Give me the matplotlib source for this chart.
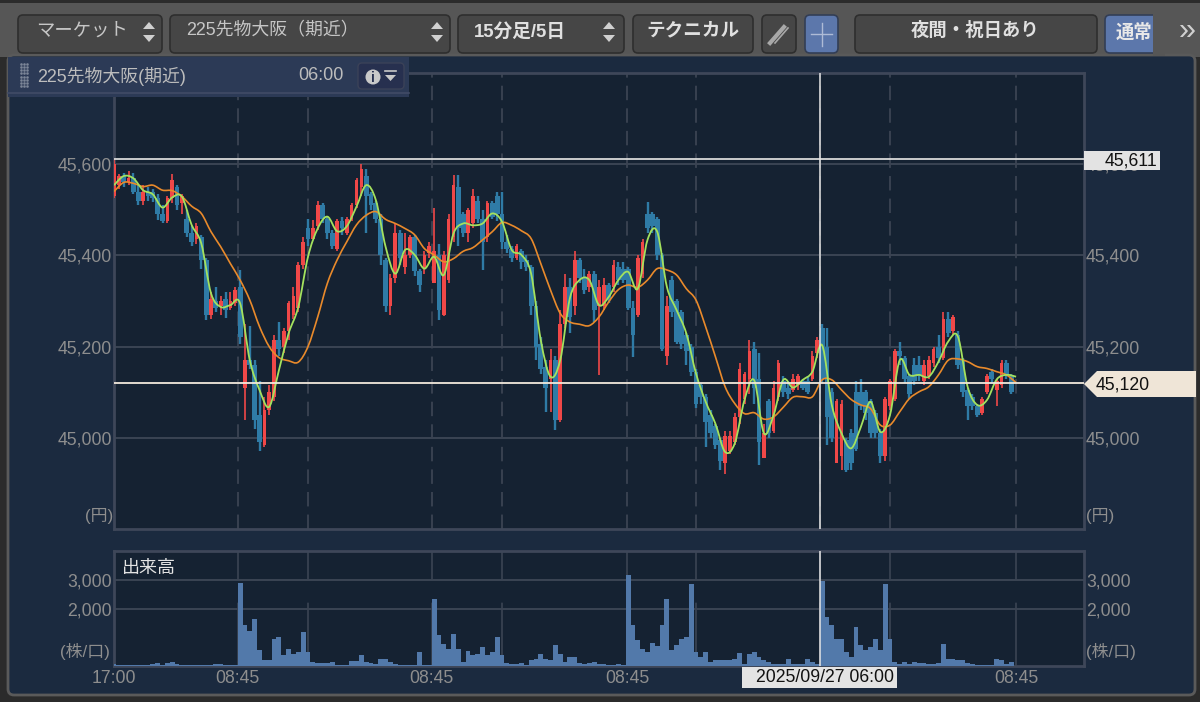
import numpy as np
import matplotlib
matplotlib.use("Agg")
import matplotlib.pyplot as plt
from matplotlib.patches import FancyBboxPatch, Rectangle, Polygon, Circle, PathPatch
from matplotlib.path import Path

plt.rcParams['font.family'] = ['Liberation Sans', 'Noto Sans CJK JP', 'DejaVu Sans']

# =========================
# DATA (one candle = 2 bar slots)
# =========================
opens = [
    45530,45555,45575,45560,45570,45540,45520,45540,45540,45525,
    45490,45475,45525,45550,45515,45480,45450,45435,45440,45390,
    45270,45300,45290,45305,45285,45295,45330,45110,45170,45160,
    45050,44985,45060,45090,45215,45200,45235,45270,45285,45380,
    45460,45435,45465,45510,45480,45450,45415,45475,45450,45480,
    45510,45550,45575,45535,45515,45480,45390,45290,45350,45450,
    45375,45400,45440,45365,45370,45405,45340,45400,45270,45345,
    45440,45550,45490,45450,45470,45520,45480,45440,45515,45530,
    45490,45430,45415,45395,45410,45390,45375,45290,45205,45155,
    45130,45170,45040,45250,45330,45290,45390,45350,45330,45360,
    45290,45290,45335,45330,45375,45370,45370,45285,45270,45360,
    45490,45490,45480,45400,45180,45345,45300,45275,45225,45200,
    45145,45115,45090,45050,45025,44995,44945,44970,44990,45045,
    45085,45130,45195,45130,44955,45080,45015,45090,45125,45110,
    45105,45115,45125,45125,45130,45185,45240,45200,45100,44945,
    44960,44995,45010,45100,45100,45100,45080,45055,45010,44960,
    45070,45085,45190,45175,45135,45160,45160,45125,45135,45165,
    45200,45175,45260,45235,45225,45170,45105,45090,45070,45055,
    45100,45145,45105,45115,45165,45135,
]
closes = [
    45600,45575,45560,45570,45540,45520,45540,45530,45525,45490,
    45475,45525,45565,45510,45530,45450,45430,45465,45390,45270,
    45305,45285,45300,45280,45300,45325,45220,45170,45160,45040,
    44990,45060,45100,45215,45195,45235,45295,45310,45380,45430,
    45435,45460,45510,45480,45450,45420,45475,45460,45480,45510,
    45565,45590,45530,45510,45480,45400,45290,45350,45450,45395,
    45400,45440,45365,45335,45400,45420,45410,45280,45400,45480,
    45555,45460,45450,45500,45530,45480,45430,45515,45485,45490,
    45430,45415,45395,45420,45385,45375,45290,45200,45150,45110,
    45170,45040,45250,45330,45265,45390,45350,45325,45360,45280,
    45330,45335,45305,45380,45345,45345,45285,45225,45395,45430,
    45460,45465,45400,45195,45290,45275,45210,45205,45190,45145,
    45075,45090,45035,45010,44985,44950,45005,45005,45045,45150,
    45140,45190,45110,44990,45010,45010,45110,45165,45100,45095,
    45130,45135,45110,45100,45180,45215,45130,45045,45000,45080,
    45075,44930,44945,44975,45070,45055,45010,45010,44960,45085,
    45125,45190,45180,45130,45095,45125,45135,45160,45170,45195,
    45175,45260,45230,45265,45160,45100,45070,45070,45050,45085,
    45135,45130,45125,45165,45140,45100,
]
highs = [
    45611,45578,45580,45585,45580,45555,45555,45550,45545,45535,
    45510,45530,45578,45555,45535,45500,45465,45470,45445,45395,
    45320,45330,45310,45320,45320,45330,45368,45250,45245,45170,
    45125,45090,45115,45225,45255,45240,45300,45330,45385,45440,
    45480,45478,45520,45515,45485,45455,45480,45485,45485,45515,
    45570,45600,45590,45540,45520,45490,45395,45360,45470,45455,
    45450,45445,45445,45370,45410,45430,45505,45425,45410,45490,
    45576,45576,45495,45505,45546,45530,45500,45520,45520,45538,
    45540,45445,45420,45425,45415,45400,45380,45300,45220,45170,
    45195,45180,45280,45360,45350,45409,45395,45370,45365,45365,
    45345,45350,45340,45390,45385,45385,45375,45300,45400,45435,
    45518,45495,45485,45405,45310,45355,45305,45280,45230,45205,
    45150,45120,45095,45060,45030,45000,45015,45015,45055,45165,
    45145,45215,45210,45185,45030,45085,45125,45170,45135,45125,
    45140,45140,45130,45135,45190,45220,45250,45240,45110,45085,
    45082,45000,45020,45125,45130,45105,45085,45060,45020,45090,
    45130,45195,45210,45180,45140,45175,45180,45170,45180,45200,
    45225,45275,45275,45270,45235,45175,45110,45095,45075,45090,
    45140,45150,45130,45170,45170,45140,
]
lows = [
    45525,45545,45550,45555,45535,45510,45510,45520,45518,45478,
    45470,45470,45515,45500,45490,45440,45420,45425,45370,45258,
    45260,45275,45270,45262,45280,45290,45205,45040,45150,45020,
    44970,44980,45050,45080,45180,45185,45215,45260,45275,45370,
    45420,45440,45455,45470,45435,45415,45410,45445,45445,45475,
    45505,45530,45450,45500,45470,45380,45275,45270,45340,45380,
    45360,45395,45355,45320,45360,45395,45340,45258,45268,45340,
    45430,45420,45440,45430,45460,45470,45368,45430,45480,45475,
    45415,45405,45385,45390,45370,45365,45270,45170,45140,45057,
    45057,45018,45035,45240,45230,45270,45340,45315,45320,45255,
    45137,45280,45295,45320,45335,45340,45280,45178,45265,45350,
    45450,45450,45390,45190,45160,45265,45205,45195,45160,45135,
    45065,45075,44980,45000,44975,44930,44920,44965,44985,45030,
    45075,45095,45075,44940,44955,45000,45010,45080,45090,45085,
    45100,45105,45105,45095,45125,45175,45120,44985,44990,44945,
    44930,44925,44930,44970,45060,45040,45000,45000,44945,44950,
    45060,45080,45160,45120,45085,45115,45125,45115,45130,45155,
    45165,45170,45220,45225,45150,45090,45040,45060,45045,45050,
    45095,45120,45070,45110,45130,45095,
]
volume = [
    80,40,40,30,30,40,30,40,60,100,
    50,90,130,60,40,40,30,40,50,40,
    50,80,60,50,40,30,2900,1420,1240,1630,
    550,200,200,950,1010,370,600,430,490,1190,
    490,140,120,100,120,130,40,40,40,190,
    190,370,140,100,60,250,250,140,60,50,
    40,40,40,490,40,40,2350,1070,780,600,
    1130,600,140,510,370,430,660,370,490,1010,
    370,120,80,60,100,50,200,250,430,250,
    200,720,430,140,310,310,120,60,100,140,
    60,60,40,40,60,50,3200,1420,900,600,
    490,800,690,1420,2350,550,720,950,1010,2870,
    490,310,490,140,200,200,200,200,250,470,
    80,430,490,310,200,140,80,60,60,230,
    60,60,60,250,140,60,2970,1710,1440,950,
    950,490,310,1360,720,550,660,950,550,2870,
    950,140,60,140,80,140,110,110,60,80,
    110,760,250,230,200,200,110,60,40,40,
    40,40,230,200,60,140,
]
# moving averages, one reading every 4 bar slots
ma_short = [
    45554,45574,45569,45543,45534,45505,45527,45529,45467,45426,
    45317,45287,45291,45295,45170,45105,45068,45148,45229,45287,
    45397,45459,45485,45453,45464,45507,45554,45521,45419,45360,
    45412,45401,45371,45397,45357,45448,45470,45466,45470,45492,
    45474,45412,45401,45360,45214,45134,45170,45306,45346,45346,
    45291,45309,45346,45364,45327,45434,45452,45331,45280,45229,
    45141,45079,45031,44969,44988,45083,45126,45010,45050,45127,
    45110,45127,45145,45203,45072,45010,44977,45024,45079,45013,
    45050,45170,45138,45138,45134,45167,45211,45222,45112,45072,
    45083,45128,45138,45134,
]
ma_long = [
    45540,45560,45558,45551,45554,45543,45542,45529,45508,45492,
    45452,45419,45382,45346,45302,45244,45200,45176,45169,45166,
    45200,45265,45339,45390,45430,45467,45488,45496,45479,45470,
    45459,45445,45415,45401,45386,45393,45409,45417,45434,45452,
    45472,45466,45454,45437,45382,45324,45273,45254,45249,45246,
    45265,45298,45325,45335,45330,45346,45371,45368,45357,45327,
    45302,45243,45178,45112,45075,45053,45055,45041,45046,45067,
    45089,45090,45090,45127,45127,45105,45084,45072,45064,45028,
    45028,45057,45086,45101,45112,45138,45170,45173,45167,45156,
    45152,45145,45138,45121,
]
price_ticks = [45000, 45200, 45400, 45600]
volume_ticks = [2000, 3000]
session_bars = [51, 80, 131, 160, 211.5, 240, 291, 320, 372]
date_bars = [0, 51, 131, 211.5, 372]
date_labels = ["17:00", "08:45", "08:45", "08:45", "08:45"]
high_line = 45611
last_price = 45120
cross_bar = 291

# =========================
# COLOURS
# =========================
PANEL = "#1b2a3f"
PLOT = "#152232"
GRID = "#3b4453"
FRAME = "#3e4759"
LABEL = "#8e8e8e"
RED = "#f04848"
BLUE = "#2f7ba6"
GREEN = "#a4e25e"
ORANGE = "#e98a2b"
VOL = "#5279aa"
W, H = 1200, 702


def axes_from_px(left, top, right, bottom):
    return [left / W, 1 - bottom / H, (right - left) / W, (bottom - top) / H]


def button(ax, x0, y0, x1, y1, color="#464646", edge="#2e2e2e"):
    ax.add_patch(FancyBboxPatch((x0 + 4, y0 + 4), x1 - x0 - 8, y1 - y0 - 8,
                                boxstyle="round,pad=4,rounding_size=5",
                                fc=color, ec=edge, lw=1.2))


def spinner(ax, x, y):
    ax.add_patch(Polygon([(x - 6, y - 3), (x + 6, y - 3), (x, y - 10)], fc="#d0d0d0"))
    ax.add_patch(Polygon([(x - 6, y + 3), (x + 6, y + 3), (x, y + 10)], fc="#d0d0d0"))


def curve_through(ax, xs, ys, color, lw, zorder):
    # bezier path that passes through every reading, so the line isn't angular
    pts = np.column_stack([xs, ys]).astype(float)
    verts = [pts[0]]
    codes = [Path.MOVETO]
    for i in range(len(pts) - 1):
        p0 = pts[max(i - 1, 0)]
        p1 = pts[i]
        p2 = pts[i + 1]
        p3 = pts[min(i + 2, len(pts) - 1)]
        verts += [p1 + (p2 - p0) / 6, p2 - (p3 - p1) / 6, p2]
        codes += [Path.CURVE4] * 3
    ax.add_patch(PathPatch(Path(verts, codes), fill=False, ec=color, lw=lw, zorder=zorder))


fig = plt.figure(figsize=(W / 100, H / 100), dpi=100, facecolor="#2b2b2b")

# =========================
# WINDOW BACKGROUND
# =========================
bg = fig.add_axes([0, 0, 1, 1], zorder=0)
bg.set_xlim(0, W)
bg.set_ylim(H, 0)
bg.axis("off")
bg.add_patch(Rectangle((0, 3), W, 54, fc="#565656"))
bg.add_patch(FancyBboxPatch((10, 57), 1183, 636, boxstyle="round,pad=2,rounding_size=6",
                            fc=PANEL, ec="#5a5a5a", lw=2))

# =========================
# PRICE CHART
# =========================
ax = fig.add_axes(axes_from_px(114, 73, 1084, 529), zorder=1, facecolor=PLOT)
x = np.arange(len(opens)) * 2
opens = np.array(opens)
closes = np.array(closes)
highs = np.array(highs)
lows = np.array(lows)
up = closes >= opens

for h in price_ticks:
    ax.axhline(h, color=GRID, lw=1.4, zorder=1)
for b in session_bars:
    ax.axvline(b, color=GRID, lw=1.3, dashes=(8, 4.5), zorder=1)

ax.vlines(x[~up], lows[~up], highs[~up], color=BLUE, lw=1.7, zorder=2)
ax.bar(x[~up], (opens - closes)[~up], bottom=closes[~up], width=2.0, color=BLUE, zorder=2)
ax.vlines(x[up], lows[up], highs[up], color=RED, lw=1.2, zorder=3)
ax.bar(x[up], (closes - opens)[up], bottom=opens[up], width=1.5, color=RED, zorder=3)

ma_x = np.arange(len(ma_short)) * 4
curve_through(ax, ma_x, ma_long, ORANGE, 1.2, 4)
curve_through(ax, ma_x, ma_short, GREEN, 1.3, 5)

ax.axhline(high_line, color="#d9d9d9", lw=1.3, zorder=6)
ax.axhline(last_price, color="#f2e9dc", lw=1.3, zorder=6)
ax.axvline(cross_bar, color="#e6e6e6", lw=1.1, zorder=6)

ax.set_xlim(0, 400)
ax.set_ylim(44800, 45800)
ax.set_xticks([])
ax.set_yticks(price_ticks)
ax.set_yticklabels([f"{t:,}" for t in price_ticks])
ax.tick_params(axis="y", length=0, pad=1.5, labelleft=True, labelright=True,
               labelsize=12.7, labelcolor=LABEL)
for s in ax.spines.values():
    s.set_color(FRAME)
    s.set_linewidth(2)

# =========================
# VOLUME CHART
# =========================
vx = fig.add_axes(axes_from_px(114, 551, 1084, 666), zorder=1, facecolor=PLOT)
for h in volume_ticks:
    vx.axhline(h, color=GRID, lw=1.4, zorder=1)
for b in session_bars:
    vx.axvline(b, color=GRID, lw=1.2, dashes=(38, 14), zorder=1)
vx.bar(x, volume, width=2.0, color=VOL, zorder=3)
vx.axvline(cross_bar, color="#e6e6e6", lw=1.1, zorder=6)
vx.set_xlim(0, 400)
vx.set_ylim(0, 4030)
vx.set_yticks(volume_ticks)
vx.set_yticklabels([f"{t:,}" for t in volume_ticks])
vx.set_xticks(date_bars)
vx.set_xticklabels(date_labels)
vx.tick_params(axis="y", length=0, pad=1.5, labelleft=True, labelright=True,
               labelsize=12.7, labelcolor=LABEL)
vx.tick_params(axis="x", length=0, pad=3, labelsize=12.7, labelcolor=LABEL)
for s in vx.spines.values():
    s.set_color(FRAME)
    s.set_linewidth(2)

# =========================
# OVERLAY: TOOLBAR, TAB, VALUE BOXES
# =========================
top = fig.add_axes([0, 0, 1, 1], zorder=5)
top.set_xlim(0, W)
top.set_ylim(H, 0)
top.axis("off")
top.patch.set_alpha(0)

button(top, 18, 15, 162, 53)
button(top, 170, 15, 450, 53)
button(top, 458, 15, 624, 53)
button(top, 633, 15, 753, 53)
button(top, 762, 15, 796, 53)
button(top, 805, 15, 838, 53, color="#5c77ab", edge="#333e55")
button(top, 855, 15, 1097, 53)
button(top, 1105, 15, 1160, 53, color="#5c77ab", edge="#333e55")
top.add_patch(Rectangle((1153, 12), 12, 44, fc="#565656"))
for sx in (149, 437, 609):
    spinner(top, sx, 32)

top.text(36, 31, "マーケット", ha="left", va="center", fontsize=13.2, color="#c6c6c6")
top.text(186, 31, "225先物大阪（期近）", ha="left", va="center", fontsize=12.9, color="#c6c6c6")
top.text(474, 32, "15分足/5日", ha="left", va="center", fontsize=13.4, color="#e0e0e0", fontweight="bold")
top.text(693, 31, "テクニカル", ha="center", va="center", fontsize=13.4, color="#e0e0e0", fontweight="bold")
top.text(975, 31, "夜間・祝日あり", ha="center", va="center", fontsize=13.2, color="#e0e0e0", fontweight="bold")
top.text(1116, 33, "通常", ha="left", va="center", fontsize=13.2, color="#e8e8e8", fontweight="bold")
top.text(1187, 31, "»", ha="center", va="center", color="#d0d0d0", fontsize=22)
top.plot([770, 784], [43, 27], color="#a8a8a8", lw=3)
top.plot([775, 788], [43, 28], color="#a8a8a8", lw=1.2)
top.plot([811, 832], [34, 34], color="#aebbd6", lw=1)
top.plot([821.5, 821.5], [23, 46], color="#aebbd6", lw=1)

# instrument tab
top.add_patch(Rectangle((8, 57), 401, 40, fc="#2c3a56"))
top.plot([8, 409], [93, 93], color="#414c66", lw=1.2)
for gx in (21, 24, 27):
    top.plot([gx] * 8, np.linspace(64, 86, 8), ls="none", marker="s", ms=0.8, color="#7d8698")
top.text(37, 76, "225先物大阪(期近)", color="#bdbdbd", fontsize=12.9, va="center")
top.text(344, 76, "06:00", color="#bdbdbd", fontsize=13, va="center", ha="right")
top.add_patch(FancyBboxPatch((361, 66), 40, 20, boxstyle="round,pad=3,rounding_size=4",
                             fc="#27304f", ec="#3b4258", lw=1))
top.add_patch(Circle((373, 77), 7.5, fc="#c9c9c9"))
top.text(373, 77.5, "i", color="#27304f", ha="center", va="center", fontsize=10, fontweight="bold")
top.plot([385, 396], [71, 71], color="#c9c9c9", lw=1.2)
top.add_patch(Polygon([(385, 75), (396, 75), (390.5, 81)], fc="#c9c9c9"))

# unit labels
top.text(85, 516, "(円)", color=LABEL, fontsize=12.2, va="center")
top.text(1086, 516, "(円)", color=LABEL, fontsize=12.2, va="center")
top.text(60, 651, "(株/口)", color=LABEL, fontsize=12.2, va="center")
top.text(1086, 651, "(株/口)", color=LABEL, fontsize=12.2, va="center")
top.text(122, 569, "出来高", color="#e4e4e4", fontsize=13, va="center")

# value boxes
top.add_patch(Rectangle((1084, 151), 76, 19, fc="#e3e3e3"))
top.text(1157, 160.5, f"{high_line:,}", color="#111111", fontsize=12.7, ha="right", va="center")
top.add_patch(Polygon([(1084, 384), (1097, 371), (1196, 371), (1196, 397), (1097, 397)], fc="#efe5d7"))
top.text(1150, 384.5, f"{last_price:,}", color="#111111", fontsize=12.7, ha="right", va="center")
top.add_patch(Rectangle((742, 667), 155, 21, fc="#e3e3e3"))
top.text(825, 677.5, "2025/09/27 06:00", color="#111111", fontsize=12.7, ha="center", va="center")

fig.savefig("out.png", dpi=100, facecolor=fig.get_facecolor())
